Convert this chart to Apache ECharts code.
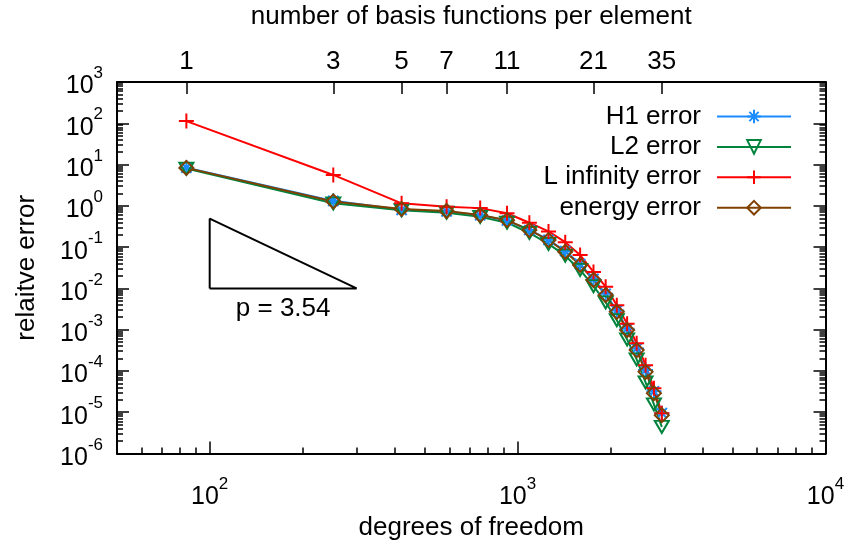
<!DOCTYPE html>
<html>
<head>
<meta charset="utf-8">
<script src="https://cdn.jsdelivr.net/npm/echarts@6/dist/echarts.min.js"></script>
<style>
  html, body { margin: 0; padding: 0; background: #fff; }
  #chart { width: 849px; height: 547px; }
</style>
</head>
<body>
<div id="chart"></div>
<script>
// p-refinement study: error norms against degrees of freedom
const basisPerElement = [1, 3, 5, 7, 9, 11, 13, 15, 17, 19, 21, 23, 25, 27, 29, 31, 33, 35];
const dofs = [84, 252, 420, 588, 756, 924, 1092, 1260, 1428, 1596, 1764, 1932, 2100, 2268, 2436, 2604, 2772, 2940];

const h1Error = [8.4, 1.32, 0.80, 0.73, 0.59, 0.44, 0.26, 0.15, 0.080, 0.039, 0.017, 0.0074, 0.0029, 0.00105, 0.00035, 0.000105, 3.2e-5, 9.5e-6];
const l2Error = [8.0, 1.15, 0.78, 0.68, 0.54, 0.39, 0.22, 0.12, 0.062, 0.028, 0.0113, 0.0046, 0.0017, 0.00058, 0.00019, 5.3e-5, 1.55e-5, 4.4e-6];
const lInfError = [113, 5.6, 1.15, 0.95, 0.88, 0.66, 0.39, 0.24, 0.132, 0.064, 0.025, 0.011, 0.0039, 0.0014, 0.00047, 0.000138, 3.8e-5, 9.5e-6];
const energyError = [8.3, 1.28, 0.84, 0.75, 0.60, 0.45, 0.26, 0.148, 0.077, 0.037, 0.016, 0.0069, 0.0027, 0.00098, 0.00032, 9.5e-5, 2.9e-5, 8.5e-6];

// axis ticks
const topTickBasis = [1, 3, 5, 7, 11, 21, 35];
const xMajorTicks = [100, 1000, 10000];
const yMajorTicks = [1e-6, 1e-5, 1e-4, 1e-3, 1e-2, 1e-1, 1, 10, 100, 1000];

// convergence-rate triangle
const slopeP = 3.54;
const slopeDofRange = [100, 300];
const slopeBaseError = 0.01;

const FONT = 'Liberation Sans, Arial, Helvetica, sans-serif';

const xMinorTicks = [];
[10, 100, 1000].forEach(d => { for (let m = 2; m <= 9; m++) { if (m * d > 50) xMinorTicks.push(m * d); } });
const yMinorTicks = [];
for (let e = -6; e <= 2; e++) { for (let m = 2; m <= 9; m++) yMinorTicks.push(+(m * Math.pow(10, e)).toPrecision(3)); }

const topTickDofs = topTickBasis.map(n => dofs[basisPerElement.indexOf(n)]);

function powLabel(v) {
  const e = Math.round(Math.log10(v));
  return '{b|10}{e|' + e + '}';
}
const powRich = {
  b: { fontSize: 25, fontFamily: FONT, color: '#000', lineHeight: 34, verticalAlign: 'bottom' },
  e: { fontSize: 17, fontFamily: FONT, color: '#000', lineHeight: 17, verticalAlign: 'top' }
};

const frameLine = { show: true, onZero: false, lineStyle: { color: '#000', width: 2 } };
const noLine = { show: false, onZero: false };

function logX(extra) {
  return Object.assign({
    type: 'log', logBase: 10, min: 50, max: 10000,
    splitLine: { show: false }, minorTick: { show: false }, minorSplitLine: { show: false }
  }, extra);
}
function logY(extra) {
  return Object.assign({
    type: 'log', logBase: 10, min: 1e-6, max: 1000,
    splitLine: { show: false }, minorTick: { show: false }, minorSplitLine: { show: false }
  }, extra);
}

const majorTick = vals => ({ show: true, inside: true, length: 12, customValues: vals, lineStyle: { color: '#000', width: 1.5 } });
const minorTick = vals => ({ show: true, inside: true, length: 6, customValues: vals, lineStyle: { color: '#000', width: 1.5 } });

// symbol outlines
const SYM_STAR = 'path://M0,5L10,5M5,0L5,10M1.6,1.6L8.4,8.4M1.6,8.4L8.4,1.6';
const SYM_PLUS = 'path://M0,5L10,5M5,0L5,10';
const SYM_TRI_DOWN = 'path://M0,0L10,0L5,8.66Z';
const SYM_DIAMOND = 'path://M5,0L10,5L5,10L0,5Z';

function errSeries(name, values, color, symbol, size) {
  return {
    name, type: 'line', xAxisIndex: 0, yAxisIndex: 0,
    data: dofs.map((d, i) => [d, values[i]]),
    symbol, symbolSize: size, showAllSymbol: true,
    lineStyle: { color, width: 2 },
    itemStyle: { color: 'rgba(0,0,0,0)', borderColor: color, borderWidth: 2 },
    emphasis: { disabled: true }
  };
}

const triTop = slopeBaseError * Math.pow(slopeDofRange[1] / slopeDofRange[0], slopeP);

const chart = echarts.init(document.getElementById('chart'), null, { renderer: 'canvas' });
chart.setOption({
  animation: false,
  backgroundColor: '#fff',
  grid: { left: 117, right: 23.5, top: 82, bottom: 93.5, containLabel: false, outerBoundsMode: 'none' },
  xAxis: [
    logX({
      position: 'bottom', axisLine: frameLine, axisTick: majorTick(xMajorTicks),
      axisLabel: { customValues: xMajorTicks, formatter: powLabel, rich: powRich, margin: 22 },
      name: 'degrees of freedom', nameLocation: 'middle', nameGap: 60,
      nameTextStyle: { fontSize: 26, fontFamily: FONT, color: '#000' }
    }),
    logX({ position: 'bottom', axisLine: noLine, axisTick: minorTick(xMinorTicks), axisLabel: { show: false } }),
    logX({
      position: 'top', axisLine: frameLine, axisTick: majorTick(topTickDofs),
      axisLabel: {
        customValues: topTickDofs, margin: 7,
        formatter: v => String(basisPerElement[dofs.indexOf(Math.round(v))]),
        fontSize: 26, fontFamily: FONT, color: '#000'
      },
      name: 'number of basis functions per element', nameLocation: 'middle', nameGap: 52,
      nameTextStyle: { fontSize: 26, fontFamily: FONT, color: '#000' }
    })
  ],
  yAxis: [
    logY({
      position: 'left', axisLine: frameLine, axisTick: majorTick(yMajorTicks),
      axisLabel: { customValues: yMajorTicks, formatter: powLabel, rich: powRich, margin: 14 },
      name: 'relaitve error', nameLocation: 'middle', nameGap: 77, nameRotate: 90,
      nameTextStyle: { fontSize: 26, fontFamily: FONT, color: '#000' }
    }),
    logY({ position: 'left', axisLine: noLine, axisTick: minorTick(yMinorTicks), axisLabel: { show: false } }),
    logY({ position: 'right', axisLine: frameLine, axisTick: majorTick(yMajorTicks), axisLabel: { show: false } }),
    logY({ position: 'right', axisLine: noLine, axisTick: minorTick(yMinorTicks), axisLabel: { show: false } })
  ],
  legend: {
    data: ['H1 error', 'L2 error', 'L infinity error', 'energy error'],
    orient: 'vertical', align: 'right', right: 52, top: 98.5,
    itemWidth: 74, itemHeight: 17, itemGap: 4.4,
    textStyle: { fontSize: 26, lineHeight: 26, fontFamily: FONT, color: '#000', padding: [0, 11, 0, 0] },
    selectedMode: false
  },
  series: [
    errSeries('H1 error', h1Error, '#1a8cff', SYM_STAR, 15),
    errSeries('L2 error', l2Error, '#00843d', SYM_TRI_DOWN, [14, 12]),
    errSeries('L infinity error', lInfError, '#ff0000', SYM_PLUS, 15),
    errSeries('energy error', energyError, '#7f4000', SYM_DIAMOND, 14),
    {
      name: 'slope', type: 'line', xAxisIndex: 0, yAxisIndex: 0, silent: true,
      data: [[slopeDofRange[0], slopeBaseError], [slopeDofRange[1], slopeBaseError], [slopeDofRange[0], triTop], [slopeDofRange[0], slopeBaseError]],
      symbol: 'none', lineStyle: { color: '#000', width: 2 }
    }
  ]
});

// slope annotation under the triangle
const labelAnchor = chart.convertToPixel({ xAxisIndex: 0, yAxisIndex: 0 },
  [Math.sqrt(slopeDofRange[0] * slopeDofRange[1]), slopeBaseError]);
chart.setOption({
  graphic: [{
    type: 'text', x: labelAnchor[0], y: labelAnchor[1] + 20, silent: true,
    style: { text: 'p = ' + slopeP, fontSize: 26, fontFamily: FONT, fill: '#000', align: 'center', verticalAlign: 'middle' }
  }]
});
</script>
</body>
</html>
